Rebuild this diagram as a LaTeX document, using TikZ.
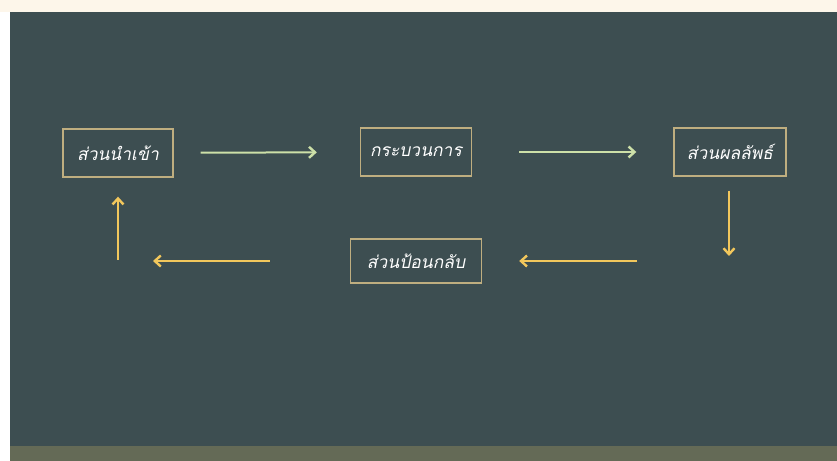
\documentclass[tikz,border=0pt]{standalone}
\usepackage{fontspec}
\newfontfamily\thaifont[Script=Thai,FakeSlant=0.2]{Loma}
\usepackage{tikz}
\usetikzlibrary{arrows.meta}
\definecolor{panel}{HTML}{3D4E51}
\definecolor{cream}{HTML}{FDF6EA}
\definecolor{olive}{HTML}{646A56}
\definecolor{boxline}{HTML}{BFAE80}
\definecolor{paleline}{HTML}{CDE0A8}
\definecolor{goldline}{HTML}{F2C75C}

\begin{document}
\begin{tikzpicture}[x=1bp,y=-1bp,
  stage/.style={draw=boxline,line width=1.4bp,text=white,
    font=\thaifont\fontsize{17.5}{20}\selectfont,
    minimum height=48bp,inner sep=0pt},
  fwd/.style={draw=paleline,line width=2bp,-{Straight Barb[length=6bp,width=11bp,line width=2.4bp]}},
  back/.style={draw=goldline,line width=2bp,-{Straight Barb[length=6bp,width=11bp,line width=2.4bp]}}]
% background
\useasboundingbox (0,0) rectangle (837,461);
\fill[white] (0,0) rectangle (837,461);
\fill[cream] (0,0) rectangle (837,12);
\fill[olive] (10,446) rectangle (837,461);
\fill[panel] (10,12) rectangle (837,446);
% stages
\node[stage,minimum width=110bp] (inp) at (118,153) {ส่วนนำเข้า};
\node[stage,minimum width=111bp] (proc) at (416,152) {กระบวนการ};
\node[stage,minimum width=112bp] (outp) at (730,152) {ส่วนผลลัพธ์};
\node[stage,minimum width=131bp,minimum height=44bp] (fb) at (416,261) {ส่วนป้อนกลับ};
\coordinate (c1) at (729,261);
\coordinate (c2) at (118,261);
% arrows
\draw[fwd,shorten <=27bp,shorten >=43bp] (inp) -- (proc);
\draw[fwd,shorten <=47bp,shorten >=37bp] (proc) -- (outp);
\draw[back,shorten <=14bp,shorten >=5bp] (outp.south -| c1) -- (c1);
\draw[back,shorten <=92bp,shorten >=37bp] (c1) -- (fb);
\draw[back,shorten <=80bp,shorten >=35bp] (fb) -- (c2);
\draw[back,shorten <=1bp,shorten >=19bp] (c2) -- (inp);
\end{tikzpicture}
\end{document}
